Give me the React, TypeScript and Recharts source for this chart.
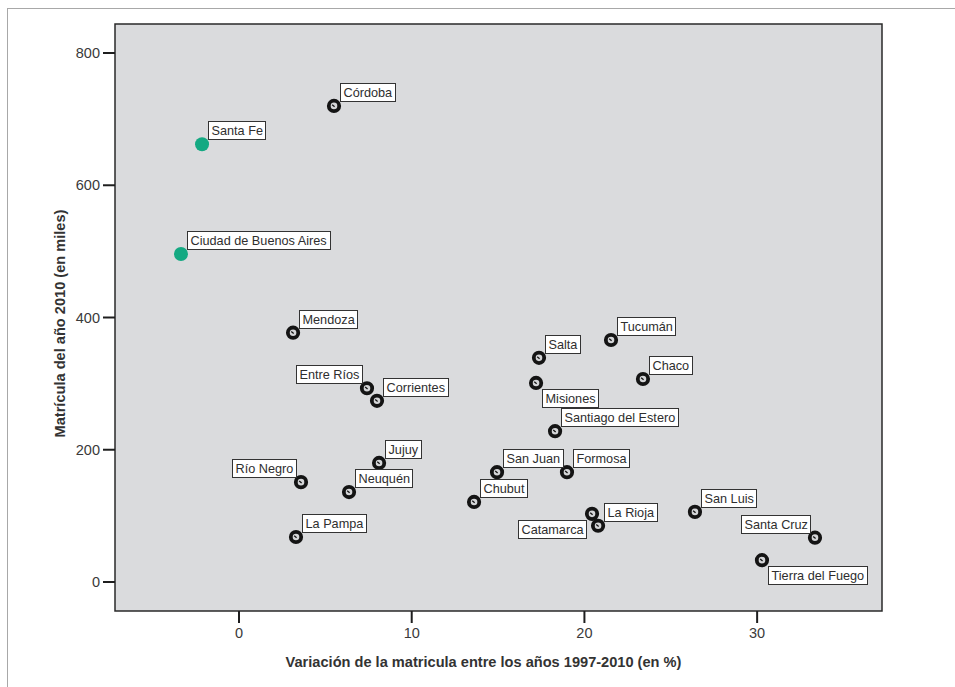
import React from 'react';
import { ScatterChart, Scatter, XAxis, YAxis, ReferenceArea } from 'recharts';

// provinces, % change of enrolment 1997-2010, enrolment 2010 (thousands)
const provinces = [
  'Córdoba', 'Santa Fe', 'Ciudad de Buenos Aires', 'Mendoza', 'Entre Ríos', 'Corrientes',
  'Jujuy', 'Río Negro', 'Neuquén', 'La Pampa', 'Salta', 'Tucumán', 'Misiones', 'Chaco',
  'Santiago del Estero', 'San Juan', 'Formosa', 'Chubut', 'Catamarca', 'La Rioja',
  'San Luis', 'Santa Cruz', 'Tierra del Fuego',
];
const variacion = [
  5.5, -2.14, -3.36, 3.13, 7.41, 7.99,
  8.11, 3.59, 6.37, 3.3, 17.37, 21.54, 17.2, 23.39,
  18.3, 14.94, 18.99, 13.61, 20.44, 20.79,
  26.4, 33.35, 30.28,
];
const matricula = [
  720, 662, 496, 377, 293, 274,
  180, 151, 136, 68, 339, 366, 301, 307,
  228, 166, 166, 121, 103, 85,
  106, 67, 33,
];
const highlighted = ['Santa Fe', 'Ciudad de Buenos Aires'];

// where each label box sits relative to its point
const labelSide: Record<string, string> = {
  'Entre Ríos': 'ul',
  'Río Negro': 'ul',
  'Santa Cruz': 'ul',
  'Misiones': 'lr',
  'Tierra del Fuego': 'lr',
  'Catamarca': 'll',
};

const xTicks = [0, 10, 20, 30];
const yTicks = [0, 200, 400, 600, 800];
const xDomain = [-7.18, 37.23];
const yDomain = [-43.9, 843.9];

const rows = provinces.map((name, i) => ({ name, x: variacion[i], y: matricula[i] }));
const greenRows = rows.filter((r) => highlighted.includes(r.name));
const ringRows = rows.filter((r) => !highlighted.includes(r.name));

const FONT = 'Arial, "Liberation Sans", sans-serif';
const LABEL_SIZE = 12.7;

let ctx: CanvasRenderingContext2D | null = null;
function textWidth(s: string) {
  if (!ctx) ctx = document.createElement('canvas').getContext('2d');
  if (!ctx) return s.length * 6.4;
  ctx.font = `${LABEL_SIZE}px ${FONT}`;
  return ctx.measureText(s).width;
}

const Ring = (props: any) => {
  const { cx, cy } = props;
  return (
    <g>
      <circle cx={cx} cy={cy} r={5.2} fill="#d4d5d7" stroke="#141414" strokeWidth={3.8} />
      <line x1={cx - 1.8} y1={cy - 1.2} x2={cx + 0.6} y2={cy + 0.8} stroke="#141414" strokeWidth={1.3} />
    </g>
  );
};

const Dot = (props: any) => {
  const { cx, cy } = props;
  return <circle cx={cx} cy={cy} r={7} fill="#14a982" />;
};

const BoxLabel = (props: any) => {
  const { cx, cy, payload } = props;
  const name = payload.name;
  const side = labelSide[name] || 'ur';
  const w = Math.round(textWidth(name)) + 6;
  const h = 18;
  let x = cx + 6;
  let y = cy - 5 - h;
  if (side === 'ul') x = cx - 5 - w;
  if (side === 'lr') y = cy + 6;
  if (side === 'll') {
    x = cx - 6 - w;
    y = cy + 6;
  }
  x = Math.round(x) + 0.5;
  y = Math.round(y) + 0.5;
  return (
    <g>
      <rect x={x} y={y} width={w} height={h} fill="#ffffff" stroke="#333333" strokeWidth={1} />
      <text x={x + 3} y={y + 13.8} fontSize={LABEL_SIZE} fontFamily={FONT} fill="#2e2e2e">
        {name}
      </text>
    </g>
  );
};

export default function App() {
  return (
    <div style={{ position: 'absolute', left: 0, top: 0, width: 955, height: 687, background: '#fff' }}>
      <div
        style={{
          position: 'absolute',
          left: 7,
          top: 8,
          width: 960,
          height: 700,
          borderLeft: '1.5px solid #a8a8a8',
          borderTop: '1.5px solid #a8a8a8',
        }}
      />
      <div style={{ position: 'absolute', left: 0, top: 0 }}>
        <ScatterChart width={955} height={687} margin={{ top: 24, right: 73, bottom: 16, left: 45 }}>
          <XAxis
            type="number"
            dataKey="x"
            domain={xDomain}
            ticks={xTicks}
            allowDataOverflow
            height={60}
            tickSize={12}
            tickMargin={5}
            axisLine={false}
            tickLine={{ stroke: '#1e1e1e', strokeWidth: 2 }}
            tick={{ fill: '#3a3a3a', fontSize: 14.5, fontFamily: FONT }}
            label={{
              content: (p: any) => {
                const vb = p.viewBox;
                return (
                  <text
                    x={vb.x + vb.width / 2 - 15}
                    y={vb.y + 56}
                    textAnchor="middle"
                    fontSize={14.6}
                    fontWeight="bold"
                    fontFamily={FONT}
                    fill="#333"
                  >
                    Variación de la matricula entre los años 1997-2010 (en %)
                  </text>
                );
              },
            }}
          />
          <YAxis
            type="number"
            dataKey="y"
            domain={yDomain}
            ticks={yTicks}
            allowDataOverflow
            width={70}
            tickSize={12}
            tickMargin={3}
            axisLine={false}
            tickLine={{ stroke: '#1e1e1e', strokeWidth: 2 }}
            tick={{ fill: '#3a3a3a', fontSize: 14.5, fontFamily: FONT }}
            label={{
              content: (p: any) => {
                const vb = p.viewBox;
                const lx = 60;
                const ly = vb.y + vb.height / 2 + 6;
                return (
                  <text
                    x={lx}
                    y={ly}
                    textAnchor="middle"
                    dominantBaseline="central"
                    transform={`rotate(-90, ${lx}, ${ly})`}
                    fontSize={14.6}
                    fontWeight="bold"
                    fontFamily={FONT}
                    fill="#333"
                  >
                    Matrícula del año 2010 (en miles)
                  </text>
                );
              },
            }}
          />
          <ReferenceArea
            x1={xDomain[0]}
            x2={xDomain[1]}
            y1={yDomain[0]}
            y2={yDomain[1]}
            fill="#dadbdd"
            fillOpacity={1}
            stroke="#2a2a2a"
            strokeWidth={1.5}
          />
          <Scatter data={ringRows} shape={Ring} isAnimationActive={false} />
          <Scatter data={greenRows} shape={Dot} isAnimationActive={false} />
          <Scatter data={rows} shape={BoxLabel} isAnimationActive={false} />
        </ScatterChart>
      </div>
    </div>
  );
}
